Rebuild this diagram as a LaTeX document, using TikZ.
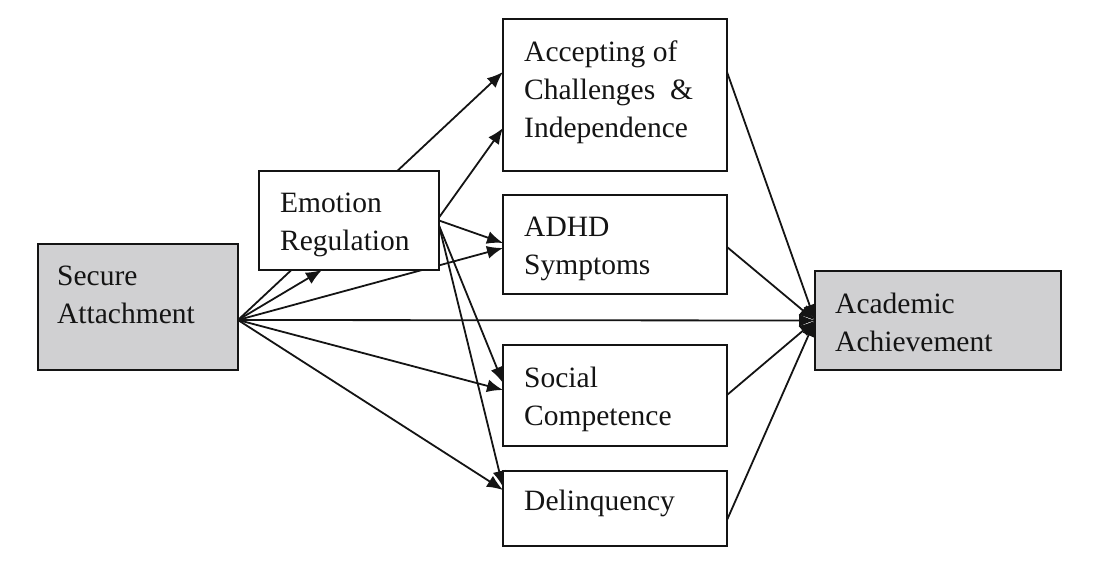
\documentclass[tikz,border=0pt]{standalone}
\usepackage{fontspec}
\setmainfont{Liberation Serif}
\usetikzlibrary{arrows.meta,calc,backgrounds}
\definecolor{boxgray}{RGB}{208,208,210}
\definecolor{ink}{RGB}{20,20,20}
\begin{document}
\begin{tikzpicture}[x=1pt,y=-1pt,
  boxw/.style={draw=ink,line width=1.8pt,fill=white,inner sep=0pt,outer sep=0pt},
  boxg/.style={boxw,fill=boxgray},
  lbl/.style={anchor=base west,inner sep=0pt,font=\fontsize{29.5}{38}\selectfont,text=ink},
  conn/.style={draw=ink,line width=1.8pt,-{Latex[length=16pt,width=13pt]}}]
\useasboundingbox (0,0) rectangle (1105,577);
% boxes
\node[boxg,minimum width=200pt,minimum height=126pt] (sa) at (138,307) {};
\node[lbl] (satx) at ($(sa.north west)+(19,41)$) {\begin{tabular}[t]{@{}l@{}}Secure\\Attachment\end{tabular}};
\node[boxw,minimum width=180pt,minimum height=99pt] (er) at (349,220.5) {};
\node[lbl] (ertx) at ($(er.north west)+(21,42)$) {\begin{tabular}[t]{@{}l@{}}Emotion\\Regulation\end{tabular}};
\node[boxw,minimum width=224pt,minimum height=152pt] (acc) at (615,95) {};
\node[lbl] (acctx) at ($(acc.north west)+(21,43)$) {\begin{tabular}[t]{@{}l@{}}Accepting of\\Challenges\ \ \&\\Independence\end{tabular}};
\node[boxw,minimum width=224pt,minimum height=99pt] (adhd) at (615,244.5) {};
\node[lbl] (adhdtx) at ($(adhd.north west)+(21,42)$) {\begin{tabular}[t]{@{}l@{}}ADHD\\Symptoms\end{tabular}};
\node[boxw,minimum width=224pt,minimum height=101pt] (soc) at (615,395.5) {};
\node[lbl] (soctx) at ($(soc.north west)+(21,42)$) {\begin{tabular}[t]{@{}l@{}}Social\\Competence\end{tabular}};
\node[boxw,minimum width=224pt,minimum height=75pt] (del) at (615,508.5) {};
\node[lbl] (deltx) at ($(del.north west)+(21,39)$) {Delinquency};
\node[boxg,minimum width=246pt,minimum height=99pt] (aa) at (938,320.5) {};
\node[lbl] (aatx) at ($(aa.north west)+(20,42)$) {\begin{tabular}[t]{@{}l@{}}Academic\\Achievement\end{tabular}};
% connector ends
\coordinate (saout) at ($(sa.east)+(0,13)$);
\coordinate (erup) at ($(er.east)+(0,-3)$);
\coordinate (ermid) at ($(er.east)+(0,0)$);
\coordinate (erdn) at ($(er.east)+(0,5)$);
\begin{scope}[on background layer]
\draw[conn] (saout) -- ($(acc.north west)+(0,53)$);
\draw[conn] (erup) -- ($(acc.north west)+(0,109)$);
\draw[conn] (saout) -- ($(er.south west)+(63,0)$);
\draw[conn] (ermid) -- ($(adhd.north west)+(0,48)$);
\draw[conn] (saout) -- ($(adhd.north west)+(0,53)$);
\draw[conn] (saout) -- (aa.west);
\draw[conn] (saout) -- ($(soc.north west)+(0,45)$);
\draw[conn] (saout) -- ($(del.north west)+(0,19)$);
\draw[conn] (erdn) -- ($(soc.north west)+(0,38)$);
\draw[conn] (erdn) -- ($(del.north west)+(0,16)$);
\draw[conn] ($(acc.north east)+(0,53)$) -- (aa.west);
\draw[conn] ($(adhd.north east)+(0,52)$) -- (aa.west);
\draw[conn] ($(soc.north east)+(0,50)$) -- (aa.west);
\draw[conn] ($(del.north east)+(0,49)$) -- (aa.west);
\end{scope}
\end{tikzpicture}
\end{document}
